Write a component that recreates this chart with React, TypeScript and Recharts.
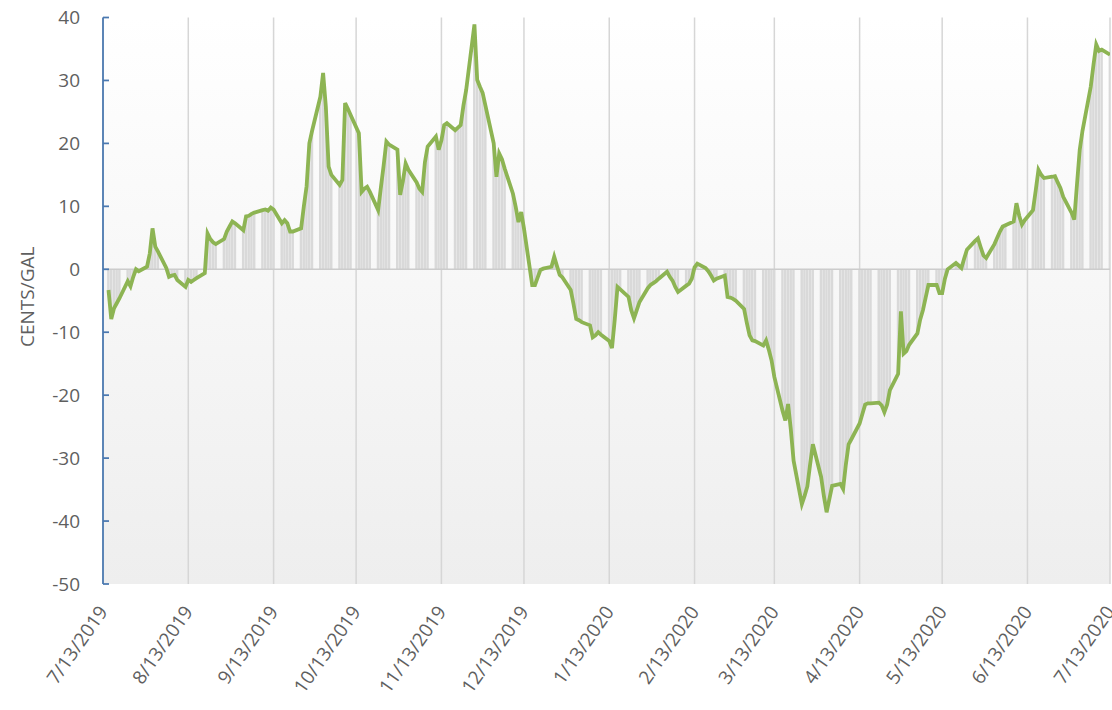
import React from 'react';
import { ComposedChart, Bar, Line, XAxis, YAxis, CartesianGrid, ReferenceLine } from 'recharts';

// Day offsets (from 7/13/2019) of the month ticks and their labels
const tickDays = [0, 31, 62, 92, 123, 153, 184, 215, 244, 275, 305, 336, 366];
const tickLabels = [
  '7/13/2019', '8/13/2019', '9/13/2019', '10/13/2019', '11/13/2019', '12/13/2019',
  '1/13/2020', '2/13/2020', '3/13/2020', '4/13/2020', '5/13/2020', '6/13/2020', '7/13/2020',
];
const yTicks = [-50, -40, -30, -20, -10, 0, 10, 20, 30, 40];

// Spread in cents/gal, one value per weekday (Mon 7/15/2019 ... Mon 7/13/2020), read week by week
const spreadValues = [
  -3.3, -7.9, -6.2, -5.4, -4.6,
  -1.9, -2.7, -1.2, 0.0, -0.3,
  0.4, 2.5, 6.5, 3.6, 2.8,
  0.2, -1.2, -1.0, -0.9, -1.7,
  -2.8, -1.7, -2.0, -1.7, -1.4,
  -0.6, 5.7, 4.8, 4.3, 4.0,
  4.8, 6.0, 6.8, 7.6, 7.3,
  6.2, 8.4, 8.5, 8.8, 9.0,
  9.4, 9.5, 9.3, 9.8, 9.5,
  7.3, 7.8, 7.3, 6.0, 6.0,
  6.5, 10.0, 13.2, 20.0, 22.0,
  27.4, 31.2, 25.8, 16.3, 15.0,
  13.4, 14.2, 26.4, 25.5, 24.5,
  21.6, 12.3, 12.8, 13.1, 12.3,
  9.4, 13.0, 16.5, 20.3, 19.8,
  19.0, 11.8, 14.0, 16.8, 15.8,
  13.8, 12.8, 12.3, 17.0, 19.5,
  21.1, 19.0, 20.5, 22.9, 23.2,
  22.1, 22.5, 22.9, 26.0, 28.5,
  38.9, 30.1, 29.0, 28.0, 26.0,
  20.0, 14.7, 18.4, 17.5, 16.0,
  12.0, 9.9, 7.5, 9.1, 6.5,
  -2.5, -2.5, -1.3, -0.1, 0.1,
  0.4, 2.0, 0.5, -0.9, -1.3,
  -3.3, -5.5, -7.9, -8.1, -8.4,
  -8.9, -10.8, -10.5, -10.0, -10.4,
  -11.4, -12.5, -8.0, -2.8, -3.2,
  -4.4, -6.5, -7.8, -6.5, -5.2,
  -3.0, -2.5, -2.2, -1.9, -1.5,
  -0.4, -1.2, -1.8, -2.8, -3.6,
  -2.6, -2.3, -1.5, 0.3, 0.9,
  0.2, -0.3, -1.0, -1.8, -1.5,
  -1.0, -4.4, -4.5, -4.7, -5.0,
  -6.3, -8.5, -10.5, -11.3, -11.4,
  -12.1, -11.3, -12.8, -14.5, -17.1,
  -22.5, -24.0, -21.4, -25.5, -30.4,
  -37.3, -36.0, -34.5, -31.0, -27.8,
  -33.0, -36.0, -38.6, -36.5, -34.4,
  -34.1, -34.9, -31.0, -27.8, -27.0,
  -24.5, -23.0, -21.5, -21.3, -21.3,
  -21.2, -21.6, -22.7, -21.5, -19.2,
  -16.6, -6.7, -13.4, -13.0, -12.0,
  -10.2, -8.0, -6.5, -4.5, -2.5,
  -2.5, -3.8, -3.8, -1.5, 0.0,
  1.0, 0.6, 0.2, 1.7, 3.1,
  4.5, 4.9, 3.5, 2.2, 1.8,
  4.0, 5.0, 6.0, 6.8, 7.0,
  7.6, 10.5, 8.5, 7.1, 7.8,
  9.4, 12.5, 15.8, 15.0, 14.5,
  14.7, 14.8, 13.8, 12.9, 11.5,
  9.0, 7.9, 13.5, 19.0, 22.0,
  29.0, 32.5, 35.7, 34.7, 34.9,
  34.1,
];

// Weekday day-offsets (7/13/2019 is a Saturday)
const weekdayOffsets: number[] = [];
for (let d = 0; d <= 366; d++) {
  if (d % 7 >= 2) weekdayOffsets.push(d);
}

const data = weekdayOffsets.map((d, i) => ({ d, v: spreadValues[i] }));

const AXIS_BLUE = '#4a78b0';
const TEXT_GRAY = '#5f5f5f';
const FONT = 'Open Sans, Liberation Sans, sans-serif';
const Y_TICK_MARGIN = 23;

const YTick = (props: any) => {
  const { x, y, payload } = props;
  return (
    <g>
      <line x1={x + Y_TICK_MARGIN} x2={x + Y_TICK_MARGIN + 6} y1={y} y2={y} stroke={AXIS_BLUE} strokeWidth={1.75} />
      <text x={x} y={y} dy="0.35em" textAnchor="end" fill={TEXT_GRAY} fontSize={19} fontFamily={FONT}>
        {payload.value}
      </text>
    </g>
  );
};

const XTick = (props: any) => {
  const { x, y, payload } = props;
  const idx = tickDays.indexOf(payload.value);
  const label = idx >= 0 ? tickLabels[idx] : '';
  return (
    <g transform={`translate(${x},${y + 24})`}>
      <text x={0} y={0} dy="0.35em" textAnchor="end" transform="rotate(-55)" fill={TEXT_GRAY} fontSize={19} fontFamily={FONT}>
        {label}
      </text>
    </g>
  );
};

const YLabel = (props: any) => {
  const vb = props.viewBox || { x: 0, y: 17.5, width: 103, height: 566.5 };
  const cx = vb.x + 27;
  const cy = vb.y + vb.height / 2 - 4;
  return (
    <text x={cx} y={cy} dy="0.35em" textAnchor="middle" transform={`rotate(-90, ${cx}, ${cy})`} fill={TEXT_GRAY} fontSize={19} fontFamily={FONT}>
      CENTS/GAL
    </text>
  );
};

export default function App() {
  return (
    <div style={{ width: 1112, height: 710, background: '#ffffff' }}>
      <style>{`body{margin:0;background:#fff;}`}</style>
      <ComposedChart width={1112} height={710} data={data} margin={{ top: 17.5, right: 2, bottom: 0, left: 0 }}>
        <defs>
          <linearGradient id="plotBg" x1="0" y1="0" x2="0" y2="1">
            <stop offset="0%" stopColor="#ffffff" />
            <stop offset="100%" stopColor="#eeeeee" />
          </linearGradient>
        </defs>
        <CartesianGrid horizontal={false} vertical={true} stroke="#d6d6d6" strokeWidth={1.5} fill="url(#plotBg)" />
        <XAxis
          dataKey="d"
          type="number"
          domain={[0, 366]}
          ticks={tickDays}
          interval={0}
          axisLine={false}
          tickLine={false}
          tickSize={0}
          tickMargin={0}
          height={126}
          tick={<XTick />}
          allowDataOverflow
        />
        <YAxis
          type="number"
          domain={[-50, 40]}
          ticks={yTicks}
          interval={0}
          width={103}
          axisLine={{ stroke: AXIS_BLUE, strokeWidth: 1.75 }}
          tickLine={false}
          tickSize={0}
          tickMargin={Y_TICK_MARGIN}
          tick={<YTick />}
          label={<YLabel />}
          allowDataOverflow
        />
        <ReferenceLine y={0} stroke="#cccccc" strokeWidth={1.5} />
        <Bar dataKey="v" fill="#d9d9d9" barSize={3} isAnimationActive={false} />
        <Line dataKey="v" type="linear" stroke="#8db453" strokeWidth={3.8} dot={false} activeDot={false} isAnimationActive={false} />
      </ComposedChart>
    </div>
  );
}
